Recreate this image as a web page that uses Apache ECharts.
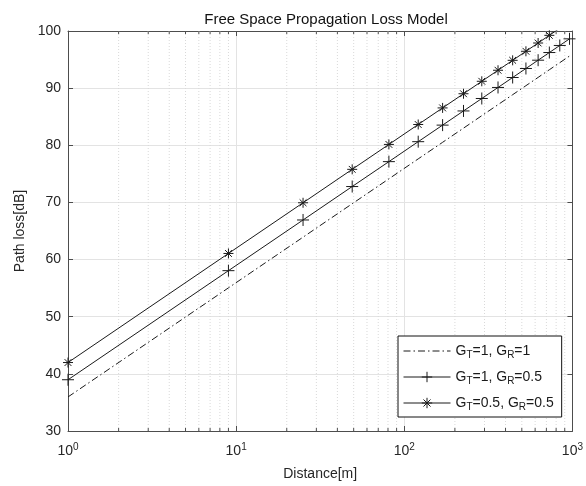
<!DOCTYPE html>
<html>
<head>
<meta charset="utf-8">
<script src="https://cdn.jsdelivr.net/npm/echarts@6/dist/echarts.min.js"></script>
<style>html,body{margin:0;padding:0;background:#fff;}#c{width:586px;height:486px;}</style>
</head>
<body>
<div id="c"></div>
<script>
// ---- data ----
const distance = [1, 9, 25, 49, 81, 121, 169, 225, 289, 361, 441, 529, 625, 729, 841, 961];
const lossGt1Gr1 = [35.96, 55.05, 63.92, 69.77, 74.13, 77.62, 80.52, 83.00, 85.18, 87.11, 88.85, 90.43, 91.88, 93.22, 94.46, 95.62];
const lossGt1Gr05 = [38.97, 58.06, 66.93, 72.78, 77.14, 80.63, 83.53, 86.01, 88.19, 90.12, 91.86, 93.44, 94.89, 96.23, 97.47, 98.63];
const lossGt05Gr05 = [41.98, 61.07, 69.94, 75.79, 80.15, 83.64, 86.54, 89.02, 91.20, 93.13, 94.87, 96.45, 97.90, 99.24, 100.48, 101.64];
const seriesNames = ['GT=1, GR=1', 'GT=1, GR=0.5', 'GT=0.5, GR=0.5'];
const seriesRich = [
  '{n|G}{s|T}{n|=1, G}{s|R}{n|=1}',
  '{n|G}{s|T}{n|=1, G}{s|R}{n|=0.5}',
  '{n|G}{s|T}{n|=0.5, G}{s|R}{n|=0.5}'
];
const xTickValues = [1, 10, 100, 1000];
const xTickExponents = ['0', '1', '2', '3'];
const xMinorValues = [2,3,4,5,6,7,8,9,20,30,40,50,60,70,80,90,200,300,400,500,600,700,800,900];
const yMin = 30, yMax = 100, yStep = 10;

const toPairs = (ys) => distance.map((d, i) => [d, ys[i]]);

const plusPath = 'path://M0,5L10,5M5,0L5,10';
const starPath = 'path://M0,5L10,5M5,0L5,10M1.6,1.6L8.4,8.4M1.6,8.4L8.4,1.6';
const ink = '#1a1a1a';
const font = '"Liberation Sans", Arial, Helvetica, sans-serif';

const chart = echarts.init(document.getElementById('c'), null, {renderer: 'canvas'});
chart.setOption({
  animation: false,
  backgroundColor: '#fff',
  textStyle: {fontFamily: font},
  title: {
    text: 'Free Space Propagation Loss Model',
    left: 321, top: 7, textAlign: 'center',
    textStyle: {fontSize: 15, fontWeight: 'normal', color: '#111', fontFamily: font}
  },
  grid: {left: 68, right: 11, top: 31, bottom: 55, containLabel: false},
  xAxis: [{
    type: 'log', logBase: 10, min: 1, max: 1000,
    name: 'Distance[m]', nameLocation: 'middle', nameGap: 34,
    nameTextStyle: {fontSize: 14, color: '#262626', fontFamily: font},
    axisLine: {show: true, lineStyle: {color: '#4d4d4d', width: 1}},
    axisTick: {show: true, inside: true, length: 5, lineStyle: {color: '#4d4d4d'}},
    axisLabel: {
      margin: 11,
      formatter: (v) => {
        const i = xTickValues.indexOf(Math.round(v));
        return '{b|10}{s|' + (i >= 0 ? xTickExponents[i] : '') + '}';
      },
      rich: {
        b: {fontSize: 14, color: '#262626', fontFamily: font, lineHeight: 16, verticalAlign: 'bottom'},
        s: {fontSize: 10, color: '#262626', fontFamily: font, lineHeight: 16, verticalAlign: 'top', padding: [0, 0, 10, 0]}
      }
    },
    splitLine: {show: true, lineStyle: {color: '#e3e3e3', width: 1}}
  }, {
    type: 'log', logBase: 10, min: 1, max: 1000, position: 'top',
    axisLine: {show: true, lineStyle: {color: '#4d4d4d', width: 1}},
    axisTick: {show: true, inside: true, length: 5, lineStyle: {color: '#4d4d4d'}},
    axisLabel: {show: false}, splitLine: {show: false}
  }],
  yAxis: [{
    type: 'value', min: yMin, max: yMax, interval: yStep,
    name: 'Path loss[dB]', nameLocation: 'middle', nameGap: 38, nameRotate: 90,
    nameTextStyle: {fontSize: 14, color: '#262626', fontFamily: font},
    axisLine: {show: true, lineStyle: {color: '#4d4d4d', width: 1}},
    axisTick: {show: true, inside: true, length: 5, lineStyle: {color: '#4d4d4d'}},
    axisLabel: {fontSize: 14, color: '#262626', margin: 7, fontFamily: font},
    splitLine: {show: true, lineStyle: {color: '#e3e3e3', width: 1}}
  }, {
    type: 'value', min: yMin, max: yMax, interval: yStep, position: 'right',
    axisLine: {show: true, lineStyle: {color: '#4d4d4d', width: 1}},
    axisTick: {show: true, inside: true, length: 5, lineStyle: {color: '#4d4d4d'}},
    axisLabel: {show: false}, splitLine: {show: false}
  }],
  legend: {
    data: [
      {name: seriesNames[0], itemStyle: {color: 'rgba(0,0,0,0)', borderColor: 'rgba(0,0,0,0)', borderWidth: 0}},
      {name: seriesNames[1], itemStyle: {color: ink, borderColor: ink, borderWidth: 1}},
      {name: seriesNames[2], itemStyle: {color: ink, borderColor: ink, borderWidth: 1}}
    ],
    orient: 'vertical', left: 398, top: 336,
    padding: [6, 8, 5, 5], itemGap: 8, itemWidth: 47, itemHeight: 13,
    backgroundColor: '#fff', borderColor: '#111', borderWidth: 1,
    align: 'left',
    itemStyle: {borderWidth: 1},
    lineStyle: {width: 1},
    formatter: (name) => seriesRich[seriesNames.indexOf(name)],
    textStyle: {
      fontFamily: font,
      rich: {
        n: {fontSize: 14, color: '#1a1a1a', fontFamily: font, lineHeight: 18, verticalAlign: 'middle'},
        s: {fontSize: 10, color: '#1a1a1a', fontFamily: font, lineHeight: 18, verticalAlign: 'bottom', padding: [8, 0, 0, 0]}
      }
    }
  },
  series: [{
    type: 'custom', name: 'minorGrid', silent: true, z: 1,
    xAxisIndex: 0, yAxisIndex: 0,
    data: xMinorValues.map(v => [v]),
    encode: {x: 0},
    renderItem: (params, api) => {
      const x = api.value(0);
      const t = api.coord([x, yMax]);
      const b = api.coord([x, yMin]);
      return {
        type: 'group',
        children: [
          {type: 'line', shape: {x1: t[0], y1: t[1], x2: b[0], y2: b[1]},
           style: {stroke: '#d9d9d9', lineWidth: 1, lineDash: [1, 2]}},
          {type: 'line', shape: {x1: b[0], y1: b[1], x2: b[0], y2: b[1] - 3},
           style: {stroke: '#4d4d4d', lineWidth: 1}},
          {type: 'line', shape: {x1: t[0], y1: t[1], x2: t[0], y2: t[1] + 3},
           style: {stroke: '#4d4d4d', lineWidth: 1}}
        ]
      };
    }
  }, {
    type: 'line', name: seriesNames[0], data: toPairs(lossGt1Gr1),
    symbol: 'none', clip: true, z: 3,
    lineStyle: {color: ink, width: 1, type: [7, 3, 1.5, 3]},
    itemStyle: {color: ink}
  }, {
    type: 'line', name: seriesNames[1], data: toPairs(lossGt1Gr05),
    symbol: plusPath, symbolSize: 12, showSymbol: true, clip: true, z: 3,
    lineStyle: {color: ink, width: 1},
    itemStyle: {color: ink, borderColor: ink, borderWidth: 1}
  }, {
    type: 'line', name: seriesNames[2], data: toPairs(lossGt05Gr05),
    symbol: starPath, symbolSize: 10, showSymbol: true, clip: true, z: 3,
    lineStyle: {color: ink, width: 1},
    itemStyle: {color: ink, borderColor: ink, borderWidth: 1}
  }]
});
</script>
</body>
</html>
